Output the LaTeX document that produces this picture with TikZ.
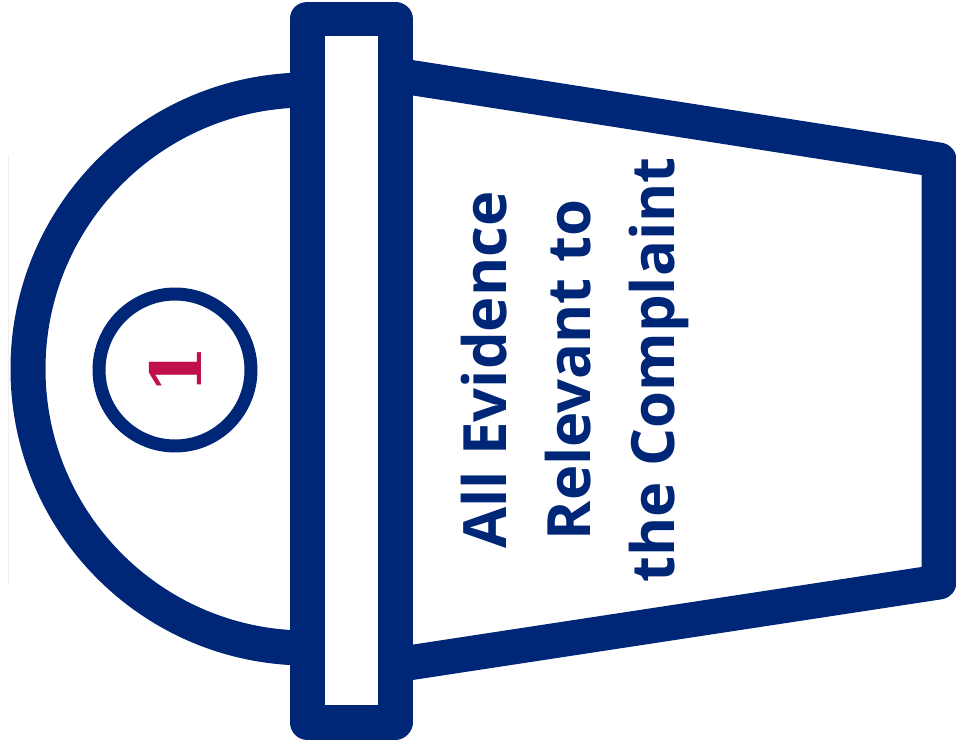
\documentclass[tikz,border=0pt]{standalone}
\usepackage{fontspec}
\setmainfont{Open Sans}
\newfontfamily\numfont{DejaVu Serif}
\definecolor{navy}{RGB}{0,38,119}
\definecolor{crimson}{RGB}{192,16,74}
\tikzset{
  outline/.style={draw=navy, line width=0.7cm, line join=round},
  numring/.style={circle, draw=navy, line width=0.26cm, minimum size=3.04cm, inner sep=0pt,
    text=crimson, font=\numfont\bfseries\fontsize{40}{40}\selectfont, rotate=90},
  label/.style={text=navy, font=\bfseries\fontsize{34}{48}\selectfont, align=center, rotate=90}
}
\begin{document}
\begin{tikzpicture}[x=0.02cm, y=-0.02cm]
        \useasboundingbox (0,0) rectangle (956,754);

        % 左边细线
        \draw[gray!12, line width=0.5pt] (8,155) -- (8,585);

        % 半圆
        \draw[outline] (307,90) arc (-90:-270:279);

        % 梯形
        \draw[outline] (395,75) -- (939,160) -- (939,582) -- (395,665);

        % 竖条
        \draw[outline, fill=white] (307,19) rectangle (395,722);

        \node[numring] (num) at (175,370) {1};
        \node[label] (txt) at (575,370) {All Evidence\\Relevant to\\the Complaint};
    \end{tikzpicture}
\end{document}
